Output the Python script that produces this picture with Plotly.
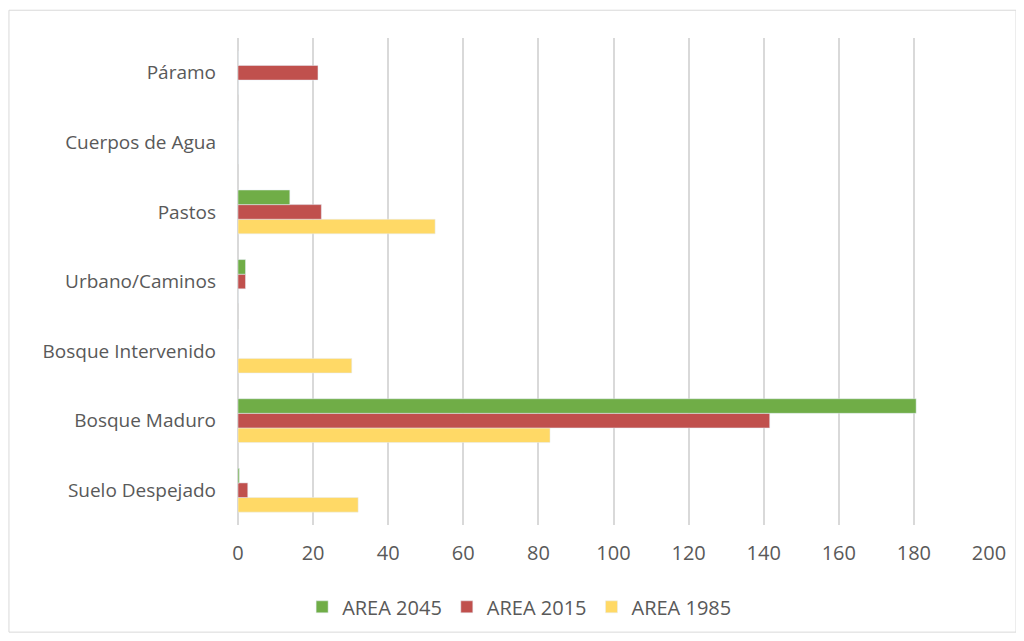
import plotly.graph_objects as go

categories = ["Suelo Despejado", "Bosque Maduro", "Bosque Intervenido", "Urbano/Caminos",
              "Pastos", "Cuerpos de Agua", "Páramo"]
area_1985 = [32.0, 83.1, 30.3, 0, 52.5, 0, 0]
area_2015 = [2.6, 141.6, 0, 2.0, 22.2, 0, 21.3]
area_2045 = [0.35, 180.6, 0, 2.0, 13.8, 0, 0]
x_ticks = [0, 20, 40, 60, 80, 100, 120, 140, 160, 180, 200]

fig = go.Figure()
fig.add_trace(go.Bar(y=categories, x=area_1985, name="AREA 1985", orientation="h",
                     marker=dict(color="#FFD966")))
fig.add_trace(go.Bar(y=categories, x=area_2015, name="AREA 2015", orientation="h",
                     marker=dict(color="#C0504D")))
fig.add_trace(go.Bar(y=categories, x=area_2045, name="AREA 2045", orientation="h",
                     marker=dict(color="#70AD47")))

fig.update_layout(
    width=1024, height=641,
    margin=dict(l=230, r=43, t=30, b=124),
    paper_bgcolor="white", plot_bgcolor="white",
    barmode="group", bargap=0.37, bargroupgap=0,
    font=dict(family="Open Sans, Liberation Sans, sans-serif", color="#595959", size=19),
    xaxis=dict(range=[0, 200], tickvals=x_ticks, showgrid=True, gridcolor="#D9D9D9",
               gridwidth=1.5, zeroline=True, zerolinecolor="#D9D9D9", zerolinewidth=2,
               showline=False, ticks="",
               ticklabelstandoff=14, tickfont=dict(size=20, color="#595959")),
    yaxis=dict(categoryorder="array", categoryarray=categories, showgrid=False,
               zeroline=False, showline=False, ticks="", ticklabelstandoff=21,
               tickfont=dict(size=19, color="#595959")),
    legend=dict(orientation="h", x=0.375, xanchor="center", y=-0.168, yanchor="middle",
                traceorder="reversed", font=dict(size=20, color="#595959"),
                itemwidth=30),
    showlegend=True,
)
fig.add_shape(type="rect", xref="paper", yref="paper", x0=-0.305, x1=1.036, y0=-0.22, y1=1.057,
              line=dict(color="#D9D9D9", width=1), fillcolor="rgba(0,0,0,0)", layer="below")
fig.write_html("out.html")
